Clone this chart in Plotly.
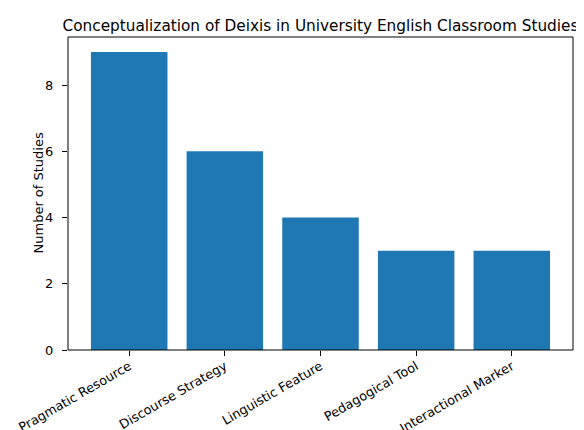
import plotly.graph_objects as go

categories = ["Pragmatic Resource", "Discourse Strategy", "Linguistic Feature",
              "Pedagogical Tool", "Interactional Marker"]
counts = [9, 6, 4, 3, 3]

fig = go.Figure(go.Bar(x=list(range(len(categories))), y=counts,
                       width=0.8, marker=dict(color="#1f77b4", line=dict(width=0))))

font = "DejaVu Sans"
# The page's body has an 8px default margin, so the figure is sized 576x422
fig.update_layout(
    width=576, height=422,
    margin=dict(l=60, r=11, t=29, b=80),
    paper_bgcolor="white", plot_bgcolor="white",
    font=dict(family=font, size=13, color="black"),
    showlegend=False,
    title=dict(text="Conceptualization of Deixis in University English Classroom Studies",
               x=0.5, xref="paper", xanchor="center", y=1, yref="paper",
               yanchor="bottom", pad=dict(b=6),
               font=dict(family=font, size=15.3, color="black")),
    xaxis=dict(range=[-0.64, 4.64], tickmode="array",
               tickvals=list(range(len(categories))), ticktext=categories,
               tickangle=-30, ticks="outside", ticklen=5, tickcolor="black",
               ticklabelstandoff=-2,
               showline=False, showgrid=False, zeroline=False, automargin=False,
               tickfont=dict(size=12.8)),
    yaxis=dict(range=[0, 9.45], dtick=2, ticks="outside", ticklen=5,
               tickcolor="black", showline=False, showgrid=False,
               ticklabelstandoff=6,
               zeroline=False, automargin=False, tickfont=dict(size=13)),
    annotations=[dict(text="Number of Studies", textangle=-90, xref="paper",
                      yref="paper", x=0, y=0.5, xanchor="center", yanchor="middle",
                      xshift=-30, showarrow=False,
                      font=dict(family=font, size=13, color="black"))],
    shapes=[dict(type="rect", xref="paper", yref="paper", x0=0, y0=0, x1=1, y1=1,
                 line=dict(color="black", width=1), fillcolor="rgba(0,0,0,0)",
                 layer="above")],
)
fig.write_html("out.html")
